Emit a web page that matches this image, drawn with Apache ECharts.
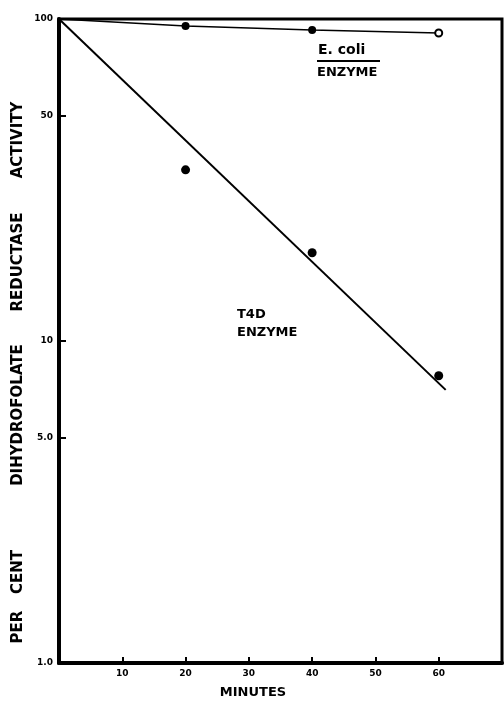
<!DOCTYPE html>
<html><head><meta charset="utf-8">
<script src="https://cdn.jsdelivr.net/npm/echarts@6/dist/echarts.min.js"></script>
<style>html,body{margin:0;padding:0;background:#fff}#c{width:504px;height:703px}</style>
</head><body><div id="c"></div>
<script>
const xTicks = [10, 20, 30, 40, 50, 60];
const yTicks = [1, 5, 10, 50, 100];
const yTickLabels = {1: '1.0', 5: '5.0', 10: '10', 50: '50', 100: '100'};
const ecoliMinutes = [0, 20, 40, 60];
const ecoliActivity = [100, 95.1, 92.4, 90.5];
const ecoliOpen = [false, false, false, true];
const t4dPointMinutes = [20, 40, 60];
const t4dPointActivity = [34.0, 18.8, 7.8];
const t4dFitMinutes = [0, 61.1];
const t4dFitActivity = [100, 7.05];

const FONT = 'DejaVu Sans';
const chart = echarts.init(document.getElementById('c'), null, {renderer: 'canvas'});

const ecoliData = ecoliMinutes.map((m, i) => ({
  value: [m, ecoliActivity[i]],
  symbol: i === 0 ? 'none' : 'circle',
  symbolSize: ecoliOpen[i] ? 7 : 8,
  itemStyle: ecoliOpen[i] ? {color: '#fff', borderColor: '#000', borderWidth: 2, opacity: 1} : {color: '#000', opacity: 1}
}));

function wordText(txt, x, y, rot, size, align) {
  return {type: 'text', x: x, y: y, rotation: rot || 0,
    style: {text: txt, font: 'bold ' + (size || 12) + 'px "' + FONT + '"', fill: '#000', align: align || 'center', verticalAlign: 'middle'}};
}

chart.setOption({
  animation: false,
  backgroundColor: '#fff',
  grid: {left: 59, right: 2, top: 19, bottom: 40, show: true, borderColor: '#000', borderWidth: 3, backgroundColor: 'transparent'},
  xAxis: {
    type: 'value', min: 0, max: 70, interval: 10,
    axisLine: {show: true, lineStyle: {color: '#000', width: 4}},
    axisTick: {show: true, inside: true, length: 6, lineStyle: {color: '#000', width: 2}, customValues: xTicks},
    axisLabel: {customValues: xTicks, color: '#000', fontFamily: FONT, fontWeight: 'bold', fontSize: 9, margin: 6},
    splitLine: {show: false}
  },
  yAxis: {
    type: 'log', logBase: 10, min: 1, max: 100,
    axisLine: {show: true, lineStyle: {color: '#000', width: 4}},
    axisTick: {show: true, inside: true, length: 7, lineStyle: {color: '#000', width: 2}, customValues: yTicks},
    axisLabel: {customValues: yTicks, formatter: v => yTickLabels[Math.round(v)] || '', color: '#000', fontFamily: FONT, fontWeight: 'bold', fontSize: 9, margin: 6},
    splitLine: {show: false}
  },
  series: [
    {type: 'line', name: 'E. coli enzyme', data: ecoliData, lineStyle: {color: '#000', width: 1.6}, showSymbol: true, z: 3},
    {type: 'line', name: 'T4D enzyme fit', data: t4dFitMinutes.map((m, i) => [m, t4dFitActivity[i]]), symbol: 'none', lineStyle: {color: '#000', width: 2}},
    {type: 'scatter', name: 'T4D enzyme', data: t4dPointMinutes.map((m, i) => [m, t4dPointActivity[i]]), symbol: 'circle', symbolSize: 9, itemStyle: {color: '#000', opacity: 1}}
  ],
  graphic: [
    wordText('E. coli', 318, 50, 0, 14, 'left'),
    {type: 'line', shape: {x1: 317, y1: 61, x2: 380, y2: 61}, style: {stroke: '#000', lineWidth: 2}},
    wordText('ENZYME', 317, 73, 0, 13, 'left'),
    wordText('T4D', 237, 315, 0, 13, 'left'),
    wordText('ENZYME', 237, 333, 0, 13, 'left'),
    wordText('MINUTES', 253, 693, 0, 13),
    wordText('ACTIVITY', 18, 140, Math.PI / 2, 15),
    wordText('REDUCTASE', 18, 262, Math.PI / 2, 15),
    wordText('DIHYDROFOLATE', 18, 415, Math.PI / 2, 15),
    wordText('CENT', 18, 572, Math.PI / 2, 15),
    wordText('PER', 18, 627, Math.PI / 2, 15)
  ]
});
</script></body></html>
